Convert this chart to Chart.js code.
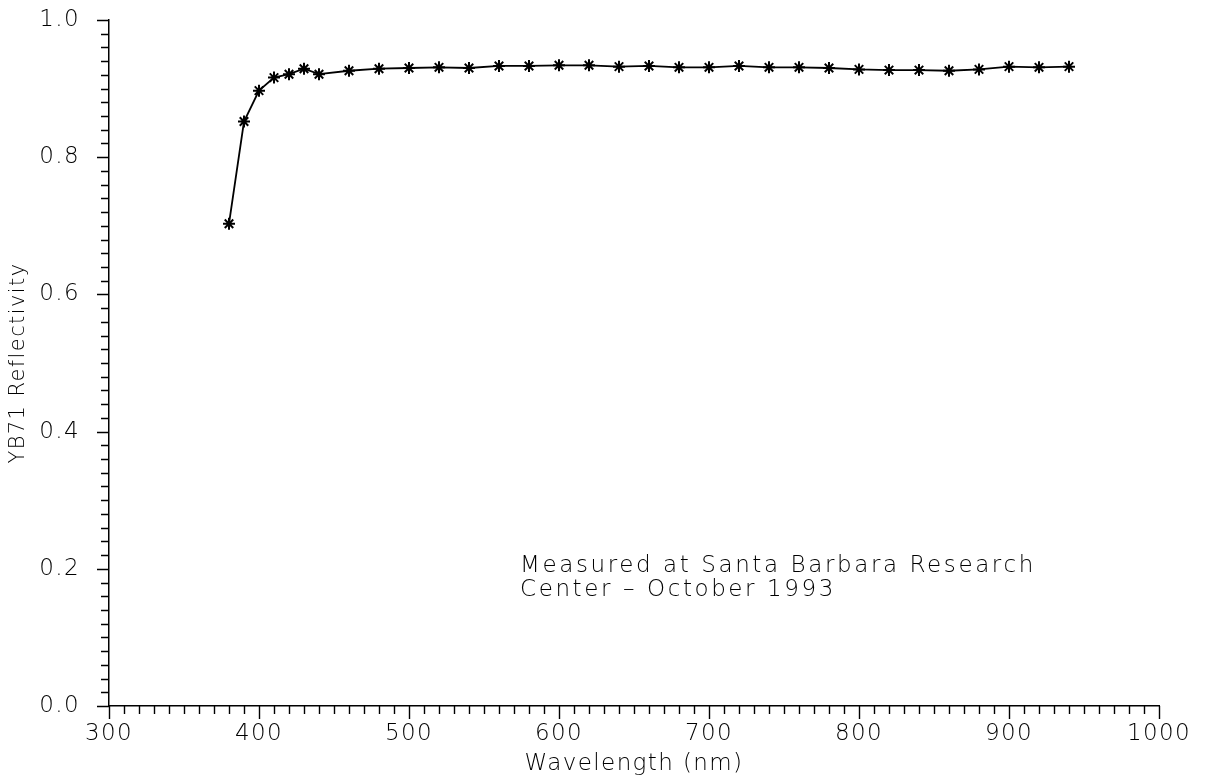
<!DOCTYPE html>
<html>
<head>
<meta charset="utf-8">
<title>YB71 Reflectivity</title>
<script src="https://cdn.jsdelivr.net/npm/chart.js@4/dist/chart.umd.min.js"></script>
<style>
  html, body { margin: 0; padding: 0; background: #ffffff; }
  #wrap { width: 1207px; height: 779px; }
</style>
</head>
<body>
<div id="wrap"><canvas id="chart" width="1207" height="779"></canvas></div>
<script>
// Spectral reflectivity of YB71 white paint
const wavelengths = [380, 390, 400, 410, 420, 430, 440, 460, 480, 500, 520, 540, 560, 580,
  600, 620, 640, 660, 680, 700, 720, 740, 760, 780, 800, 820, 840, 860, 880, 900, 920, 940];
const reflectivity = [0.703, 0.852, 0.897, 0.916, 0.921, 0.929, 0.921, 0.926, 0.929, 0.930,
  0.931, 0.930, 0.933, 0.933, 0.934, 0.934, 0.932, 0.933, 0.931, 0.931, 0.933, 0.931, 0.931,
  0.930, 0.928, 0.927, 0.927, 0.926, 0.928, 0.932, 0.931, 0.932];

const xTickLabels = ['300', '400', '500', '600', '700', '800', '900', '1000'];
const yTickLabels = ['0.0', '0.2', '0.4', '0.6', '0.8', '1.0'];
const noteLines = ['Measured at Santa Barbara Research', 'Center \u2013 October 1993'];

const FONT = '"DejaVu Sans", "Liberation Sans", sans-serif';
const INK = '#000000';

// Wide letter spacing for all axis text
const spacing = {
  id: 'spacing',
  beforeDraw(chart) { chart.ctx.letterSpacing = '1.4px'; }
};

// Minor / major tick marks drawn from the scale's own tick list
const tickMarks = {
  id: 'tickMarks',
  afterDraw(chart) {
    const ctx = chart.ctx;
    const x = chart.scales.x, y = chart.scales.y;
    ctx.save();
    ctx.strokeStyle = INK;
    ctx.lineWidth = 1.4;
    ctx.beginPath();
    x.ticks.forEach(t => {
      const px = Math.round(x.getPixelForValue(t.value)) + 0.5;
      const major = Math.round(t.value) % 100 === 0;
      ctx.moveTo(px, x.top);
      ctx.lineTo(px, x.top + (major ? 13 : 8));
    });
    y.ticks.forEach(t => {
      const py = Math.round(y.getPixelForValue(t.value)) + 0.5;
      const major = Math.round(t.value * 50) % 10 === 0;
      ctx.moveTo(y.right, py);
      ctx.lineTo(y.right - (major ? 12 : 8), py);
    });
    ctx.stroke();
    ctx.restore();
  }
};

// Measurement note placed in data coordinates
const noteText = {
  id: 'noteText',
  afterDraw(chart) {
    const ctx = chart.ctx;
    const x = chart.scales.x, y = chart.scales.y;
    ctx.save();
    ctx.fillStyle = INK;
    ctx.font = '200 23px ' + FONT;
    ctx.letterSpacing = '2.6px';
    ctx.textBaseline = 'alphabetic';
    ctx.textAlign = 'left';
    const left = x.getPixelForValue(574);
    const base = y.getPixelForValue(0.195);
    noteLines.forEach((line, i) => ctx.fillText(line, left, base + i * 24));
    ctx.restore();
  }
};

new Chart(document.getElementById('chart'), {
  type: 'line',
  data: {
    datasets: [{
      data: wavelengths.map((w, i) => ({ x: w, y: reflectivity[i] })),
      borderColor: INK,
      backgroundColor: INK,
      borderWidth: 1.8,
      tension: 0,
      pointStyle: 'star',
      pointRadius: 6,
      pointBorderWidth: 2,
      pointBorderColor: INK,
      fill: false
    }]
  },
  options: {
    responsive: false,
    devicePixelRatio: 1,
    animation: false,
    layout: { padding: { left: 0, right: 48, top: 20, bottom: 0 } },
    plugins: { legend: { display: false }, tooltip: { enabled: false } },
    scales: {
      x: {
        type: 'linear',
        position: 'bottom',
        min: 300,
        max: 1000,
        border: { display: true, color: INK, width: 1.5 },
        grid: { display: true, drawOnChartArea: false, drawTicks: true, tickLength: 12, tickColor: 'rgba(0,0,0,0)' },
        ticks: {
          stepSize: 10,
          autoSkip: false,
          maxRotation: 0,
          minRotation: 0,
          padding: 2,
          color: INK,
          font: { family: FONT, size: 23, weight: '200' },
          callback: v => {
            const i = xTickLabels.indexOf(String(Math.round(v)));
            return Math.round(v) % 100 === 0 && i >= 0 ? xTickLabels[i] : '';
          }
        },
        title: {
          display: true,
          text: 'Wavelength (nm)',
          color: INK,
          font: { family: FONT, size: 23, weight: '200' },
          padding: { top: 0, bottom: 1 }
        },
        afterFit(s) { s.height = 73; s.paddingLeft = 0; s.paddingRight = 0; }
      },
      y: {
        type: 'linear',
        min: 0,
        max: 1,
        border: { display: true, color: INK, width: 1.5 },
        grid: { display: true, drawOnChartArea: false, drawTicks: true, tickLength: 12, tickColor: 'rgba(0,0,0,0)' },
        ticks: {
          stepSize: 0.02,
          autoSkip: false,
          padding: 17,
          color: INK,
          font: { family: FONT, size: 23, weight: '200' },
          callback: v => {
            const k = Math.round(v * 50);
            return k % 10 === 0 ? yTickLabels[k / 10] : '';
          }
        },
        title: {
          display: true,
          text: 'YB71 Reflectivity',
          color: INK,
          font: { family: FONT, size: 21, weight: '200' },
          padding: { top: 6, bottom: 0 }
        },
        afterFit(s) { s.width = 109; s.paddingTop = 0; s.paddingBottom = 0; }
      }
    }
  },
  plugins: [spacing, tickMarks, noteText]
});
</script>
</body>
</html>
